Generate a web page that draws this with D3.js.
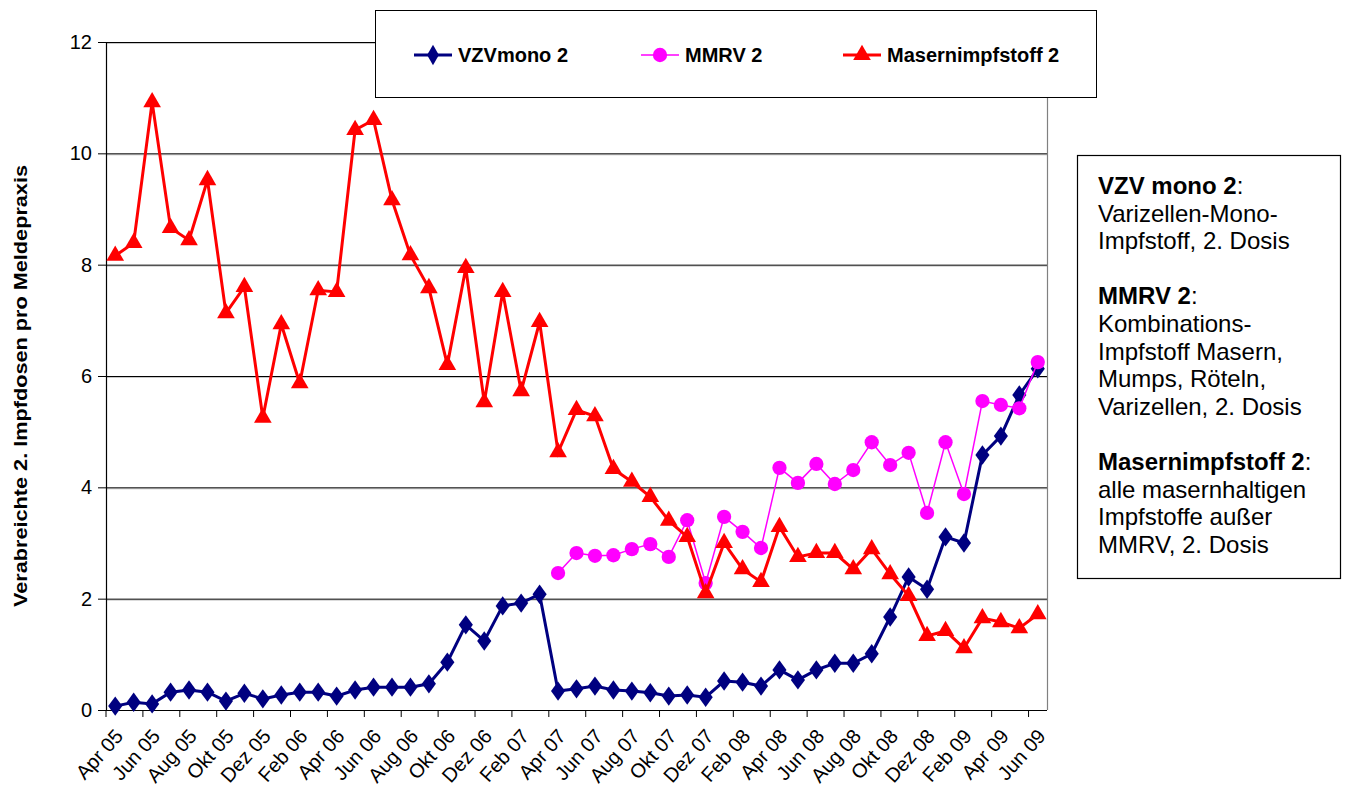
<!DOCTYPE html>
<html>
<head>
<meta charset="utf-8">
<script src="https://cdn.jsdelivr.net/npm/d3@7"></script>
<style>
  body { margin: 0; background: #fff; }
  text { font-family: "Liberation Sans", Arial, sans-serif; }
</style>
</head>
<body>
<div id="chart"></div>
<script>
const months = ["Apr 05","Mai 05","Jun 05","Jul 05","Aug 05","Sep 05","Okt 05","Nov 05","Dez 05","Jan 06","Feb 06","Mrz 06",
  "Apr 06","Mai 06","Jun 06","Jul 06","Aug 06","Sep 06","Okt 06","Nov 06","Dez 06","Jan 07","Feb 07","Mrz 07",
  "Apr 07","Mai 07","Jun 07","Jul 07","Aug 07","Sep 07","Okt 07","Nov 07","Dez 07","Jan 08","Feb 08","Mrz 08",
  "Apr 08","Mai 08","Jun 08","Jul 08","Aug 08","Sep 08","Okt 08","Nov 08","Dez 08","Jan 09","Feb 09","Mrz 09",
  "Apr 09","Mai 09","Jun 09"]

const vzvmono = [0.07,0.14,0.11,0.32,0.36,0.32,0.16,0.30,0.20,0.27,0.32,0.32,
  0.25,0.36,0.41,0.41,0.41,0.47,0.86,1.53,1.24,1.87,1.92,2.08,
  0.34,0.38,0.43,0.36,0.34,0.31,0.25,0.27,0.23,0.52,0.50,0.43,
  0.72,0.54,0.72,0.84,0.84,1.01,1.67,2.39,2.17,3.11,3.00,4.58,
  4.92,5.66,6.13]

// MMRV starts in Apr 07
const mmrv = [null,null,null,null,null,null,null,null,null,null,null,null,
  null,null,null,null,null,null,null,null,null,null,null,null,
  2.46,2.82,2.77,2.78,2.89,2.98,2.75,3.41,2.28,3.47,3.20,2.91,
  4.35,4.08,4.42,4.06,4.31,4.81,4.40,4.62,3.54,4.81,3.88,5.55,
  5.48,5.42,6.25]

const masern = [8.16,8.39,10.92,8.66,8.44,9.52,7.13,7.60,5.25,6.93,5.87,7.54,
  7.51,10.42,10.60,9.16,8.17,7.58,6.20,7.94,5.53,7.51,5.73,6.97,
  4.63,5.39,5.28,4.33,4.10,3.83,3.40,3.11,2.10,3.00,2.53,2.30,
  3.29,2.75,2.82,2.82,2.53,2.89,2.44,2.05,1.33,1.42,1.11,1.65,
  1.58,1.47,1.72]

const yTicks = [0, 2, 4, 6, 8, 10, 12]

const series = [
  {name: "VZVmono 2", values: vzvmono, color: "#000080", width: 3, symbol: d3.symbolDiamond, size: 120},
  {name: "MMRV 2", values: mmrv, color: "#FF00FF", width: 1.5, symbol: d3.symbolCircle, size: 160},
  {name: "Masernimpfstoff 2", values: masern, color: "#FF0000", width: 3, symbol: d3.symbolTriangle, size: 135}
]

const notes = [
  [{t: "VZV mono 2", b: true}, {t: ":", b: false}],
  [{t: "Varizellen-Mono-"}],
  [{t: "Impfstoff, 2. Dosis"}],
  [],
  [{t: "MMRV 2", b: true}, {t: ":"}],
  [{t: "Kombinations-"}],
  [{t: "Impfstoff Masern,"}],
  [{t: "Mumps, Röteln,"}],
  [{t: "Varizellen, 2. Dosis"}],
  [],
  [{t: "Masernimpfstoff 2", b: true}, {t: ":"}],
  [{t: "alle masernhaltigen"}],
  [{t: "Impfstoffe außer"}],
  [{t: "MMRV, 2. Dosis"}]
]

const svg = d3.select("#chart").append("svg")
  .attr("width", 1346)
  .attr("height", 793)

const margin = {top: 42, right: 299, bottom: 83, left: 106}
const width = 1346 - margin.left - margin.right
const height = 793 - margin.top - margin.bottom
const g = svg.append("g")
  .attr("transform", `translate(${margin.left}, ${margin.top})`)

const x = d3.scaleBand()
  .domain(months)
  .range([0, width])
  .padding(0)

const y = d3.scaleLinear()
  .domain([0, 12])
  .range([height, 0])

// gridlines with a little grey shadow, like the original
g.selectAll(".grid-shadow")
  .data(yTicks.slice(1))
  .enter().append("line")
  .attr("x1", 0).attr("x2", width)
  .attr("y1", d => y(d) + 1.5).attr("y2", d => y(d) + 1.5)
  .attr("stroke", "#c8c8c8").attr("stroke-width", 1)
g.selectAll(".grid")
  .data(yTicks.slice(1))
  .enter().append("line")
  .attr("x1", 0).attr("x2", width)
  .attr("y1", d => y(d) + 0.5).attr("y2", d => y(d) + 0.5)
  .attr("stroke", "#000").attr("stroke-width", 1)

// right border of plot area
g.append("line")
  .attr("x1", width + 0.5).attr("x2", width + 0.5)
  .attr("y1", 0).attr("y2", height)
  .attr("stroke", "#808080").attr("stroke-width", 1.2)

// y axis
const yAxis = g.append("g")
  .call(d3.axisLeft(y).tickValues(yTicks).tickSize(8).tickPadding(6))
yAxis.select(".domain").attr("stroke", "#000").attr("stroke-width", 1.2)
yAxis.selectAll("line").attr("stroke", "#000")
yAxis.selectAll("text")
  .attr("font-size", "20px")
  .attr("fill", "#000")
  .style("font-family", "'Liberation Sans', Arial, sans-serif")

// x axis: tick marks every second month boundary
const tickIdx = d3.range(0, months.length + 1, 2)
const xg = g.append("g").attr("transform", `translate(0, ${height})`)
xg.append("line")
  .attr("x1", 0).attr("x2", width)
  .attr("y1", 0.5).attr("y2", 0.5)
  .attr("stroke", "#000").attr("stroke-width", 1.2)
xg.selectAll(".tick")
  .data(tickIdx)
  .enter().append("line")
  .attr("x1", d => d < months.length ? x(months[d]) : width)
  .attr("x2", d => d < months.length ? x(months[d]) : width)
  .attr("y1", 0).attr("y2", 7)
  .attr("stroke", "#000")
xg.selectAll(".lbl")
  .data(months.filter((m, i) => i % 2 === 0))
  .enter().append("text")
  .attr("transform", d => `translate(${x(d) + x.bandwidth() / 2 + 9}, 27) rotate(-48)`)
  .attr("text-anchor", "end")
  .attr("font-size", "20px")
  .attr("fill", "#000")
  .text(d => d)

// y axis title
svg.append("text")
  .attr("transform", `translate(27, 386) rotate(-90)`)
  .attr("text-anchor", "middle")
  .attr("font-size", "19px")
  .attr("font-weight", "bold")
  .attr("textLength", 442)
  .attr("lengthAdjust", "spacingAndGlyphs")
  .text("Verabreichte 2. Impfdosen pro Meldepraxis")

// lines and markers
series.forEach(s => {
  const pts = s.values.map((v, i) => ({m: months[i], v: v})).filter(p => p.v !== null)
  const line = d3.line()
    .x(p => x(p.m) + x.bandwidth() / 2)
    .y(p => y(p.v))
  g.append("path")
    .datum(pts)
    .attr("fill", "none")
    .attr("stroke", s.color)
    .attr("stroke-width", s.width)
    .attr("d", line)
  g.selectAll(null)
    .data(pts)
    .enter().append("path")
    .attr("d", d3.symbol().type(s.symbol).size(s.size))
    .attr("transform", p => `translate(${x(p.m) + x.bandwidth() / 2}, ${y(p.v)})` + (s.symbol === d3.symbolDiamond ? " scale(1.2,0.95)" : ""))
    .attr("fill", s.color)
})

// legend box
const leg = svg.append("g")
leg.append("rect")
  .attr("x", 375.5).attr("y", 10.5)
  .attr("width", 721).attr("height", 87)
  .attr("fill", "#fff").attr("stroke", "#000").attr("stroke-width", 1)
const legX = [414, 641, 843]
series.forEach((s, i) => {
  const lx = legX[i]
  leg.append("line")
    .attr("x1", lx).attr("x2", lx + 38)
    .attr("y1", 55).attr("y2", 55)
    .attr("stroke", s.color).attr("stroke-width", s.width)
  leg.append("path")
    .attr("d", d3.symbol().type(s.symbol).size(s.size))
    .attr("transform", `translate(${lx + 19}, 55)`)
    .attr("fill", s.color)
  leg.append("text")
    .attr("x", lx + 44).attr("y", 62)
    .attr("font-size", "20px")
    .attr("font-weight", "bold")
    .text(s.name)
})

// explanation box on the right
const nb = svg.append("g")
nb.append("rect")
  .attr("x", 1077.5).attr("y", 155.5)
  .attr("width", 263).attr("height", 423)
  .attr("fill", "#fff").attr("stroke", "#000").attr("stroke-width", 1.2)
notes.forEach((parts, i) => {
  if (!parts.length) return
  const t = nb.append("text")
    .attr("x", 1098).attr("y", 194 + i * 27.6)
    .attr("font-size", "24px")
  parts.forEach(p => {
    t.append("tspan")
      .attr("font-weight", p.b ? "bold" : "normal")
      .text(p.t)
  })
})
</script>
</body>
</html>
